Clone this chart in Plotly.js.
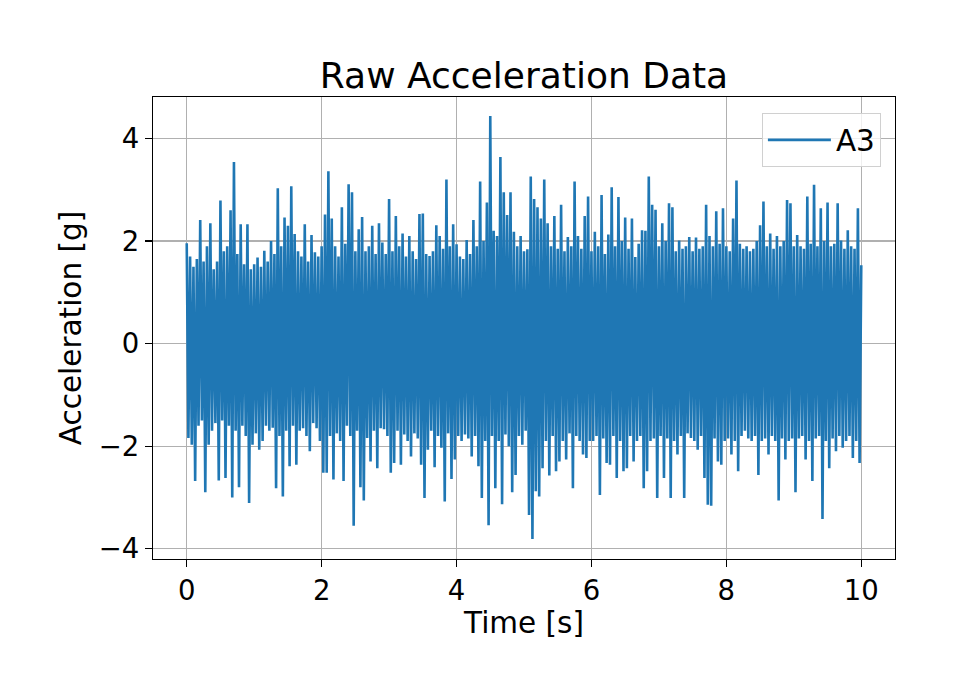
<!DOCTYPE html>
<html>
<head>
    <meta charset="UTF-8">
    <script src="https://cdn.plot.ly/plotly-3.0.1.min.js"></script>
    <style>
        body { margin: 0; background: white; }
        #plot { width: 955px; height: 695px; }
    </style>
</head>
<body>
    <div id="plot"></div>

    <script>
        // sample spacing of the trace (s) and its start
        const t0 = 0;
        const dt = 0.025;

        // A3 channel (g), one row per second
        const accelA3 = [
            1.96, -1.84, 1.7, -1.97, 1.5, -2.68, 1.65, -1.6, 2.41, -1.5, 1.6, -2.9, 1.9, -1.97, 2.35, -1.7, 1.45, -1.55, 1.6, -2.67,
            2.79, -1.5, 1.8, -2.62, 1.9, -1.6, 2.6, -3.0, 3.54, -1.7, 1.75, -2.8, 2.33, -1.6, 1.55, -1.8, 2.33, -3.11, 1.45, -1.97,
            // 1 s
            1.55, -1.75, 1.68, -2.07, 1.5, -1.9, 1.81, -1.6, 1.6, -1.7, 2.0, -1.64, 1.75, -2.82, 3.03, -1.8, 1.9, -2.98, 2.46, -1.7,
            2.3, -2.39, 3.07, -1.6, 2.14, -2.36, 1.8, -1.7, 1.7, -1.65, 2.33, -1.8, 1.6, -2.1, 2.12, -1.55, 1.78, -1.65, 1.7, -1.9,
            // 2 s
            1.9, -2.52, 2.52, -2.52, 3.36, -1.8, 2.44, -2.65, 1.9, -1.75, 1.7, -1.9, 2.66, -2.68, 1.95, -1.6, 3.11, -1.8, 2.95, -3.55,
            1.8, -1.7, 2.23, -2.8, 2.47, -3.06, 1.8, -1.84, 1.9, -2.3, 2.3, -1.7, 1.75, -2.43, 2.35, -1.65, 1.97, -1.67, 1.75, -1.8,
            // 3 s
            2.82, -2.52, 1.8, -2.33, 2.49, -1.7, 1.9, -2.36, 2.15, -1.77, 1.7, -1.9, 2.1, -2.2, 1.8, -1.75, 1.65, -1.85, 2.53, -2.36,
            2.54, -3.01, 1.75, -2.07, 1.71, -1.7, 1.8, -2.41, 2.31, -1.8, 2.1, -2.03, 1.85, -3.08, 3.2, -1.75, 1.9, -2.64, 2.33, -2.26,
            // 4 s
            1.94, -1.8, 1.7, -1.9, 1.65, -1.77, 2.02, -1.85, 1.75, -2.2, 2.41, -1.8, 1.9, -2.39, 3.16, -3.01, 2.0, -1.9, 2.75, -3.54,
            4.44, -1.8, 2.2, -2.82, 2.1, -1.9, 3.64, -3.13, 2.95, -1.77, 2.51, -2.0, 2.95, -2.9, 2.18, -2.56, 1.9, -1.8, 2.1, -1.97,
            // 5 s
            1.8, -1.7, 1.84, -3.34, 3.26, -3.81, 2.82, -2.88, 2.66, -2.98, 2.44, -2.43, 3.2, -1.9, 2.35, -2.57, 1.9, -1.8, 2.49, -2.49,
            1.85, -2.3, 2.71, -1.9, 1.8, -2.26, 2.08, -1.75, 1.9, -2.82, 3.16, -1.8, 2.1, -1.9, 1.85, -2.16, 2.49, -2.23, 2.87, -1.9,
            // 6 s
            1.8, -1.9, 2.18, -1.8, 1.9, -2.95, 2.9, -1.85, 1.75, -2.33, 2.13, -2.36, 3.05, -1.8, 1.9, -2.62, 2.86, -1.9, 2.0, -2.49,
            2.46, -2.43, 1.85, -1.8, 2.44, -2.3, 1.69, -1.9, 1.95, -1.8, 2.21, -2.82, 2.2, -2.49, 3.26, -1.9, 2.71, -1.85, 2.61, -3.01,
            // 7 s
            1.9, -1.8, 2.35, -2.62, 2.0, -1.85, 2.74, -3.01, 2.66, -1.9, 1.8, -2.16, 2.01, -1.8, 1.85, -3.01, 1.9, -1.75, 2.08, -1.84,
            1.8, -1.9, 2.07, -2.07, 1.85, -1.8, 1.9, -2.62, 2.71, -3.14, 2.1, -3.16, 1.9, -1.85, 2.58, -2.3, 1.95, -2.36, 2.64, -1.9,
            // 8 s
            1.9, -1.85, 1.8, -2.16, 2.44, -1.9, 3.18, -2.49, 1.95, -1.8, 1.85, -1.7, 1.9, -1.85, 1.8, -1.9, 1.85, -1.8, 2.0, -2.56,
            2.31, -1.9, 2.77, -1.85, 1.9, -2.16, 2.15, -1.8, 1.85, -1.9, 2.1, -3.06, 1.9, -1.85, 2.0, -2.26, 2.8, -1.9, 2.74, -1.85,
            // 9 s
            1.9, -2.9, 2.12, -1.85, 1.9, -1.8, 1.85, -2.26, 2.87, -1.9, 1.95, -2.68, 3.1, -1.85, 1.9, -1.8, 2.64, -3.42, 2.0, -1.9,
            2.75, -2.43, 1.9, -1.85, 1.95, -2.1, 2.74, -1.8, 2.01, -2.03, 1.85, -1.9, 2.21, -1.8, 1.9, -2.23, 1.85, -1.9, 2.64, -2.33,
            // 10 s
            1.53
        ];

        const xTicks = [0, 2, 4, 6, 8, 10];
        const yTicks = [-4, -2, 0, 2, 4];

        const font = 'DejaVu Sans, sans-serif';

        const trace = {
            x0: t0,
            dx: dt,
            y: accelA3,
            name: 'A3',
            type: 'scatter',
            mode: 'lines',
            line: {
                color: '#1f77b4',
                width: 2.6
            }
        };

        const axisStyle = {
            showline: true,
            mirror: true,
            linecolor: 'black',
            linewidth: 1.2,
            ticks: 'outside',
            ticklen: 7,
            tickwidth: 1.2,
            tickcolor: 'black',
            showgrid: true,
            gridcolor: '#b0b0b0',
            gridwidth: 1.2,
            zeroline: false,
            tickfont: { family: font, size: 27.5, color: 'black' }
        };

        const layout = {
            width: 955,
            height: 695,
            margin: { l: 153, r: 60, t: 97, b: 136 },
            paper_bgcolor: 'white',
            plot_bgcolor: 'white',
            font: { family: font, color: 'black' },
            title: {
                text: 'Raw Acceleration Data',
                font: { family: font, size: 36, color: 'black' },
                xref: 'paper',
                x: 0.5,
                y: 0.892,
                yanchor: 'middle'
            },
            xaxis: Object.assign({}, axisStyle, {
                range: [-0.5, 10.5],
                tickvals: xTicks,
                title: { text: 'Time [s]', font: { family: font, size: 29.5 }, standoff: 4 }
            }),
            yaxis: Object.assign({}, axisStyle, {
                range: [-4.2, 4.81],
                tickvals: yTicks,
                title: { text: 'Acceleration [g]', font: { family: font, size: 29.5 }, standoff: 8 }
            }),
            showlegend: true,
            legend: {
                x: 0.981,
                y: 0.965,
                xanchor: 'right',
                yanchor: 'top',
                bgcolor: 'rgba(255,255,255,0.8)',
                bordercolor: '#d0d0d0',
                borderwidth: 1,
                itemwidth: 63,
                font: { family: font, size: 29.5 }
            }
        };

        Plotly.newPlot('plot', [trace], layout, { staticPlot: true });
    </script>
</body>
</html>
